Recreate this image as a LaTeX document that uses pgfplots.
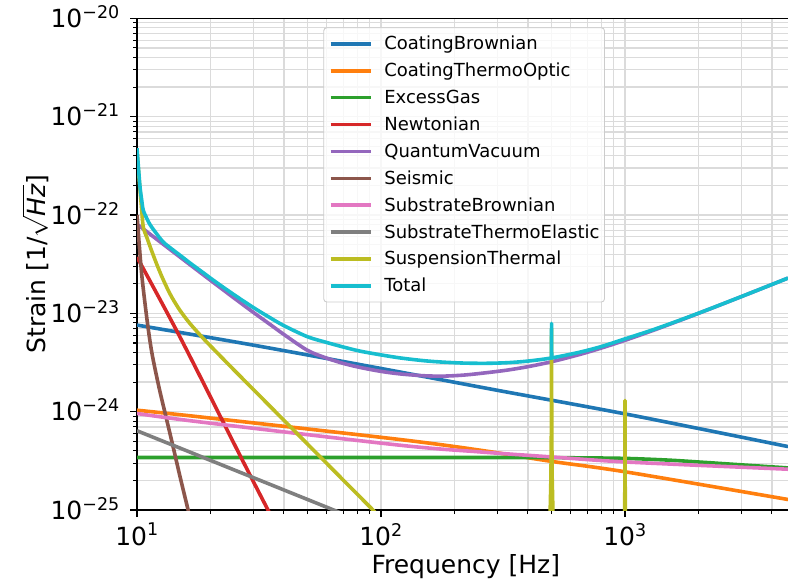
\documentclass[border=0pt]{standalone}
\usepackage{pgfplots}
\pgfplotsset{compat=1.18}
\usepackage{fontspec}
\setmainfont{DejaVu Sans}

% tab10 palette
\definecolor{c0}{HTML}{1F77B4}
\definecolor{c1}{HTML}{FF7F0E}
\definecolor{c2}{HTML}{2CA02C}
\definecolor{c3}{HTML}{D62728}
\definecolor{c4}{HTML}{9467BD}
\definecolor{c5}{HTML}{8C564B}
\definecolor{c6}{HTML}{E377C2}
\definecolor{c7}{HTML}{7F7F7F}
\definecolor{c8}{HTML}{BCBD22}
\definecolor{c9}{HTML}{17BECF}
\definecolor{gridgray}{RGB}{219,219,219}

\newcommand{\tp}[1]{10\textsuperscript{#1}}

\begin{document}
\begin{tikzpicture}
\begin{axis}[
  name=ax,
  scale only axis, width=651pt, height=491.7pt,
  xmode=log, ymode=log,
  xmin=10, xmax=4656, ymin=1e-25, ymax=1e-20,
  axis x line=box, axis y line=left,
  axis line style={-, line width=1.1pt, black},
  xtick pos=bottom, ytick pos=left,
  tick align=outside,
  major tick length=7pt, minor tick length=4pt,
  every tick/.style={black, line width=1.1pt},
  xtick={10,100,1000},
  xticklabels={\tp{1},\tp{2},\tp{3}},
  minor xtick={20,30,40,50,60,70,80,90,200,300,400,500,600,700,800,900,2000,3000,4000},
  ytick={1e-25,1e-24,1e-23,1e-22,1e-21,1e-20},
  yticklabels={\tp{−25},\tp{−24},\tp{−23},\tp{−22},\tp{−21},\tp{−20}},
  minor ytick={2e-25,3e-25,4e-25,5e-25,6e-25,7e-25,8e-25,9e-25,
               2e-24,3e-24,4e-24,5e-24,6e-24,7e-24,8e-24,9e-24,
               2e-23,3e-23,4e-23,5e-23,6e-23,7e-23,8e-23,9e-23,
               2e-22,3e-22,4e-22,5e-22,6e-22,7e-22,8e-22,9e-22,
               2e-21,3e-21,4e-21,5e-21,6e-21,7e-21,8e-21,9e-21},
  grid=both,
  major grid style={line width=1.2pt, color=gridgray},
  minor grid style={line width=1.2pt, color=gridgray},
  tick label style={font=\fontsize{25}{30}\selectfont, inner sep=0pt},
  xticklabel style={anchor=north, yshift=-6pt},
  yticklabel style={anchor=base east, xshift=-10pt, yshift=-9.1pt},
  label style={font=\fontsize{25}{30}\selectfont, inner sep=0pt},
  xlabel={Frequency [Hz]},
  ylabel={Strain [1/$\sqrt{\mbox{\itshape Hz}}$]},
  xlabel style={at={(axis description cs:0.505,-0.130)}, anchor=base},
  ylabel style={at={(axis description cs:-0.1352,0.5)}, anchor=south, rotate=0},
  legend cell align=left,
  legend image code/.code={\draw[#1, line width=3.6pt] (0pt,0pt) -- (40pt,0pt);},
  legend style={at={(axis description cs:0.2862,0.9817)}, anchor=north west,
    draw=black!20, line width=0.9pt, rounded corners=3pt,
    fill=white, fill opacity=0.8, text opacity=1,
    font=\fontsize{18}{21.6}\selectfont,
    inner sep=5pt, row sep=4.8pt, column sep=12pt,
    nodes={inner sep=0pt, text height=17pt, text depth=5.1pt}},
  every axis plot/.append style={line width=3.6pt, line join=round},
]

\addplot[c0, smooth] coordinates {
 (10,7.6e-24) (30,4.75e-24) (100,2.75e-24) (300,1.65e-24) (1000,9.5e-25) (4656,4.42e-25)};
\addlegendentry{CoatingBrownian}

\addplot[c1, smooth] coordinates {
 (10,1.035e-24) (18.13,8.85e-25) (119.7,5.21e-25) (254.5,4.06e-25) (497.4,3.13e-25)
 (1009.5,2.44e-25) (4656,1.28e-25)};
\addlegendentry{CoatingThermoOptic}

\addplot[c2, smooth] coordinates {
 (10,3.42e-25) (300,3.42e-25) (600,3.40e-25) (1000,3.35e-25) (1500,3.22e-25)
 (2000,3.08e-25) (3000,2.88e-25) (4656,2.68e-25)};
\addlegendentry{ExcessGas}

\addplot[c3, smooth] coordinates {
 (10,3.73e-23) (15.01,5.73e-24) (27.19,3.13e-25) (34.43,1e-25) (42.4,3.7e-26)};
\addlegendentry{Newtonian}

\addplot[c4, smooth] coordinates {
 (10,8.07e-23) (12,5.71e-23) (14,4.26e-23) (17,2.95e-23) (20,2.17e-23) (25,1.43e-23)
 (30,1.022e-23) (35,7.76e-24) (40,6.1e-24) (50,4.2e-24) (60,3.5e-24) (70,3.1e-24)
 (82,2.82e-24) (100,2.57e-24) (120,2.42e-24) (150,2.32e-24) (180,2.30e-24)
 (220,2.36e-24) (270,2.49e-24) (330,2.65e-24) (400,2.87e-24) (500,3.22e-24)
 (650,3.81e-24) (800,4.44e-24) (1000,5.32e-24) (1300,6.69e-24) (1700,8.57e-24)
 (2200,1.095e-23) (3000,1.480e-23) (4000,1.965e-23) (4656,2.284e-23)};
\addlegendentry{QuantumVacuum}

\addplot[c5, smooth] coordinates {
 (10,1.0e-22) (10.25,4.47e-23) (10.5,2.24e-23) (11.0,8.5e-24) (11.5,4.0e-24)
 (12.3,1.78e-24) (13.2,8.5e-25) (14.0,4.6e-25) (15.0,2.2e-25) (16.2,1e-25) (17.5,4.5e-26)};
\addlegendentry{Seismic}

\addplot[c6, smooth] coordinates {
 (10,9.59e-25) (18.13,7.87e-25) (119.7,4.56e-25) (254.5,3.90e-25) (497.4,3.47e-25)
 (1009.5,3.08e-25) (4656,2.60e-25)};
\addlegendentry{SubstrateBrownian}

\addplot[c7] coordinates {(10,6.4e-25) (100,6.4e-26)};
\addlegendentry{SubstrateThermoElastic}

% suspension thermal: broadband part
\addplot[c8, smooth] coordinates {
 (10,4.4e-22) (10.15,2.73e-22) (10.29,1.79e-22) (10.45,1.15e-22) (10.61,7.53e-23)
 (11,5.82e-23) (11.34,4.70e-23) (12,3.24e-23) (12.62,2.39e-23) (13.3,1.80e-23)
 (13.91,1.45e-23) (15,1.072e-23) (16.5,7.86e-24) (18.64,5.6e-24) (21,4.12e-24)
 (25,2.65e-24) (30,1.68e-24) (40,8.18e-25) (55,3.69e-25) (75,1.70e-25)
 (92.7,1e-25) (120,5.2e-26) (200,1.46e-26)};
\addlegendentry{SuspensionThermal}
% suspension thermal: violin modes
\addplot[c8, forget plot] coordinates {
 (400,2.5e-27)
 (490,6.4e-26) (493.6,1e-25) (497,2.1e-25) (499,6.4e-25) (499.8,3.2e-24)
 (500,7.0e-24)
 (500.2,3.2e-24) (501,6.4e-25) (503,2.1e-25) (506.4,1e-25) (510,6.4e-26)
 (700,1e-27)
 (990,2.7e-26) (997.3,1e-25) (999,2.7e-25) (999.8,1.0e-24) (1000,1.3e-24)
 (1000.2,1.0e-24) (1001,2.7e-25) (1002.7,1e-25) (1010,2.7e-26)
 (2000,1e-28)};

% total: broadband part
\addplot[c9, smooth] coordinates {
 (10,4.78e-22) (10.15,2.93e-22) (10.29,1.92e-22) (10.45,1.43e-22) (10.61,1.12e-22)
 (11,9.1e-23) (11.34,7.9e-23) (12,6.5e-23) (12.82,5.3e-23) (13.91,4.5e-23)
 (15,3.9e-23) (16.5,3.25e-23) (18.64,2.6e-23) (21,2.09e-23) (25,1.545e-23)
 (30,1.145e-23) (35,9.07e-24) (40,7.5e-24) (50,5.78e-24) (60,5.05e-24)
 (70,4.55e-24) (82,4.13e-24) (100,3.78e-24) (120,3.52e-24) (150,3.30e-24)
 (180,3.19e-24) (220,3.12e-24) (270,3.105e-24) (330,3.15e-24) (400,3.27e-24)
 (500,3.52e-24) (650,4.02e-24) (800,4.6e-24) (1000,5.5e-24) (1300,6.8e-24)
 (1700,8.63e-24) (2200,1.098e-23) (3000,1.482e-23) (4000,1.966e-23) (4656,2.285e-23)};
\addlegendentry{Total}
% total: violin mode at 500 Hz
\addplot[c9, forget plot] coordinates {
 (497,3.51e-24) (499,3.55e-24) (499.8,4.7e-24) (500,7.9e-24) (500.2,4.7e-24)
 (501,3.55e-24) (503,3.54e-24)};

\end{axis}
\pgfresetboundingbox
\path[use as bounding box] ([xshift=-137pt,yshift=-77pt]ax.south west) rectangle ([yshift=18.3pt]ax.north east);
\end{tikzpicture}
\end{document}
